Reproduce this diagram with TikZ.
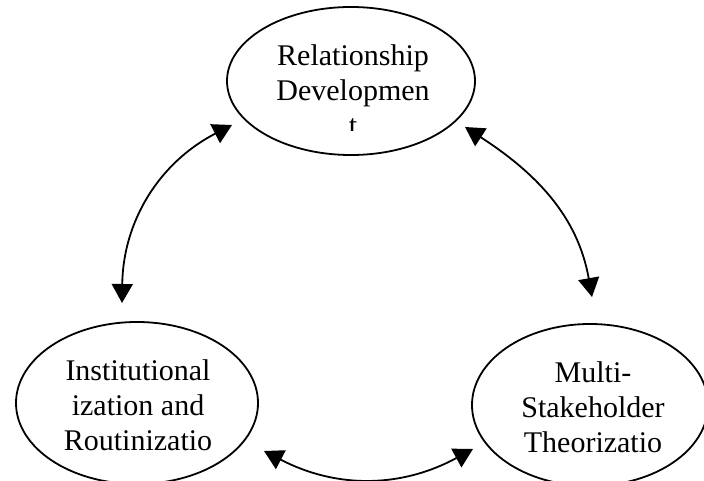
\documentclass[tikz,border=0pt]{standalone}
\usepackage{fontspec}
\setmainfont{Liberation Serif}
\usetikzlibrary{shapes.geometric,arrows.meta}

\tikzset{
  stage/.style={draw,ellipse,line width=1.8pt,inner sep=0pt},
  stagetext/.style={align=center,inner sep=0pt,anchor=north,font=\fontsize{30}{35}\selectfont},
  twoway/.style={{Triangle[length=19pt,width=21pt]}-{Triangle[length=19pt,width=21pt]},line width=1.8pt}
}

\begin{document}
\begin{tikzpicture}[x=1pt,y=-1pt]
  \useasboundingbox (0,0) rectangle (704,481);

  % Ellipses
  \node[stage,minimum width=248pt,minimum height=148pt] (rel) at (351,81) {};
  \node[stage,minimum width=242pt,minimum height=162pt] (inst) at (137,403) {};
  \node[stage,minimum width=236pt,minimum height=162pt] (multi) at (590,405) {};

  % Texts
  \begin{scope}
    \clip (200,0) rectangle (500,131);
    \node[stagetext] (reltext) at (353,44.5) {Relationship\\Developmen\\t};
  \end{scope}
  \node[stagetext] (insttext) at (138,359.5) {Institutional\\ization and\\Routinizatio};
  \node[stagetext] (multitext) at (593,361.5) {Multi-\\Stakeholder\\Theorizatio};

  % Arrow ends
  \coordinate (rel-sw) at (232,125);
  \coordinate (inst-n) at (122,303);
  \coordinate (rel-se) at (465,127);
  \coordinate (multi-n) at (592,297);
  \coordinate (inst-se) at (264,451);
  \coordinate (multi-sw) at (473,449);

  % Arrows
  \draw[twoway] (rel-sw) to[bend right=31] (inst-n);
  \draw[twoway] (rel-se) to[out=-33,in=100] (multi-n);
  \draw[twoway] (inst-se) to[bend right=28] (multi-sw);
\end{tikzpicture}
\end{document}
